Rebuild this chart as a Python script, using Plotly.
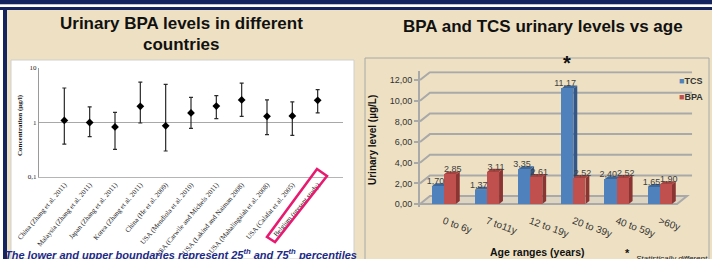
import plotly.graph_objects as go

W, H = 712, 259
def px(x): return x / W
def py(y): return 1 - y / H

# ---------------- data: left chart (urinary BPA by country, µg/l) ----------------
studies = ["China (Zhang et al. 2011)", "Malaysia (Zhang et al. 2011)", "Japan (Zhang et al. 2011)",
           "Korea (Zhang et al. 2011)", "China (He et al. 2009)", "USA (Mendiola et al. 2010)",
           "USA (Carwile and Michels 2011)", "USA (Lakind and Naiman 2008)",
           "USA (Mahalingaiah et al. 2008)", "USA (Calafat et al. 2005)", "Belgium (present study)"]
bpa_median = [1.09, 1.00, 0.83, 1.98, 0.87, 1.50, 2.00, 2.60, 1.30, 1.32, 2.55]
bpa_p25 = [0.40, 0.55, 0.32, 0.98, 0.30, 0.78, 1.18, 1.29, 0.60, 0.58, 1.50]
bpa_p75 = [4.30, 1.93, 1.54, 5.50, 5.00, 2.90, 3.10, 5.30, 2.60, 2.40, 4.00]
left_ticks = [0.1, 1, 10]
left_ticktext = ["0,1", "1", "10"]

# ---------------- data: right chart (urinary level by age, µg/L) ----------------
age_ranges = ["0 to 6y", "7 to11y", "12 to 19y", "20 to 39y", "40 to 59y", ">60y"]
tcs = [1.70, 1.37, 3.35, 11.17, 2.40, 1.65]
bpa = [2.85, 3.11, 2.61, 2.52, 2.52, 1.90]
right_ticks = [0, 2, 4, 6, 8, 10, 12]

BLUE, BLUE_D, BLUE_T = "#4f81bd", "#34578a", "#3d6699"
RED, RED_D, RED_T = "#c0504d", "#8a3532", "#a34340"
NAVY = "#13245e"
BEIGE = "#eee1c3"

fig = go.Figure()

# left chart
fig.add_trace(go.Scatter(
    x=studies, y=bpa_median, mode="markers",
    marker=dict(symbol="diamond", size=6, color="black"),
    error_y=dict(type="data", symmetric=False,
                 array=[u - m for u, m in zip(bpa_p75, bpa_median)],
                 arrayminus=[m - l for m, l in zip(bpa_median, bpa_p25)],
                 color="#2a2a2a", thickness=1.2, width=2),
    xaxis="x", yaxis="y", showlegend=False))

# right chart bars
idx = list(range(len(age_ranges)))
BW = 0.28
series = ((tcs, -BW, BLUE, "TCS", -0.19), (bpa, 0.0, RED, "BPA", 0.21))
for vals, off, col, nm, lab in series:
    fig.add_trace(go.Bar(x=idx, y=vals, offset=off, width=BW, marker=dict(color=col, line=dict(width=0)),
                         xaxis="x2", yaxis="y2", showlegend=False, name=nm))
# value labels drawn on top of all bars
for vals, off, col, nm, lab in series:
    fig.add_trace(go.Scatter(x=[i + lab for i in idx], y=vals, mode="text",
                             texttemplate="%{y:.2f}", textposition="top center", cliponaxis=False,
                             textfont=dict(family="Liberation Sans", size=9, color="#404040"),
                             xaxis="x2", yaxis="y2", showlegend=False, hoverinfo="skip"))

shapes = []
# slide decorations
shapes.append(dict(type="rect", xref="paper", yref="paper", x0=0, x1=1, y0=py(4.5), y1=1,
                   fillcolor=NAVY, line=dict(width=0), layer="below"))
shapes.append(dict(type="rect", xref="paper", yref="paper", x0=0, x1=1, y0=py(7), y1=py(4.5),
                   fillcolor="white", line=dict(width=0), layer="below"))
shapes.append(dict(type="rect", xref="paper", yref="paper", x0=0, x1=1, y0=py(10), y1=py(7),
                   fillcolor=NAVY, line=dict(width=0), layer="below"))
shapes.append(dict(type="rect", xref="paper", yref="paper", x0=0, x1=px(3), y0=0, y1=py(10),
                   fillcolor="white", line=dict(width=0), layer="below"))
shapes.append(dict(type="rect", xref="paper", yref="paper", x0=px(3), x1=px(7), y0=0, y1=py(10),
                   fillcolor=NAVY, line=dict(width=0), layer="below"))
# left white chart box
shapes.append(dict(type="rect", xref="paper", yref="paper", x0=px(11), x1=px(354), y0=0, y1=py(60),
                   fillcolor="white", line=dict(color="#cfcfcf", width=1), layer="below"))
# right chart border
shapes.append(dict(type="rect", xref="paper", yref="paper", x0=px(365), x1=px(709), y0=py(262), y1=py(58),
                   fillcolor="rgba(0,0,0,0)", line=dict(color="#a8a8a8", width=1), layer="below"))
# Belgium highlight box
pts = [(317, 169), (327, 176), (275, 242), (267, 237)]
path = "M " + " L ".join(f"{px(a):.5f},{py(b):.5f}" for a, b in pts) + " Z"
shapes.append(dict(type="path", xref="paper", yref="paper", path=path,
                   line=dict(color="#e8196f", width=2.5)))

# 3D walls / floor for right chart
X0, X1 = -0.55, 5.75
DX, DY = 0.23, 0.77
for v in right_ticks[1:]:
    shapes.append(dict(type="path", xref="x2", yref="y2",
                       path=f"M {X0},{v} L {X0+DX},{v+DY} L {X1},{v+DY}",
                       line=dict(color="#a9a9a9", width=2), layer="below"))
shapes.append(dict(type="path", xref="x2", yref="y2",
                   path=f"M {X0},0 L {X1-DX-0.12},0 L {X1-0.12},{DY} L {X0+DX},{DY} Z",
                   fillcolor="rgba(190,190,190,0.35)", line=dict(color="#a9a9a9", width=2), layer="below"))

# bar depth faces
ddx, ddy = 0.09, 0.3
for vals, off, side, top in ((tcs, -BW, BLUE_D, BLUE_T), (bpa, 0.0, RED_D, RED_T)):
    for i, v in zip(idx, vals):
        xl, xr = i + off, i + off + BW
        shapes.append(dict(type="path", xref="x2", yref="y2",
                           path=f"M {xr},0 L {xr},{v} L {xr+ddx},{v+ddy} L {xr+ddx},{ddy} Z",
                           fillcolor=side, line=dict(width=0), layer="below"))
        shapes.append(dict(type="path", xref="x2", yref="y2",
                           path=f"M {xl},{v} L {xr},{v} L {xr+ddx},{v+ddy} L {xl+ddx},{v+ddy} Z",
                           fillcolor=top, line=dict(width=0), layer="below"))

def note(text, x, y, size, family="Liberation Sans", color="#111", xanchor="center",
         yanchor="middle", angle=0):
    return dict(text=text, x=px(x), y=py(y), xref="paper", yref="paper", xanchor=xanchor,
                yanchor=yanchor, textangle=angle, showarrow=False,
                font=dict(family=family, size=size, color=color))

annotations = [
    note("<b>Urinary BPA levels in different</b>", 181, 23, 17),
    note("<b>countries</b>", 181, 44, 17),
    note("<b>BPA and TCS urinary levels vs age</b>", 543, 26, 17),
    note("<b>Concentration (µg/l)</b>", 20, 125, 7, family="Liberation Serif", angle=-90),
    note("<b><i>The lower and upper boundaries represent 25<sup>th</sup> and 75<sup>th</sup> percentiles</i></b>",
         3, 245, 11, color="#1c2a86", xanchor="left", yanchor="top"),
    note("<b>Urinary level (µg/L)</b>", 372, 140, 10, angle=-90),
    note("<b>Age ranges (years)</b>", 537, 252, 10.5),
    note(f'<span style="color:{BLUE}">■</span><b>TCS</b>', 677, 81, 9, color="#333", xanchor="left"),
    note(f'<span style="color:{RED}">■</span><b>BPA</b>', 677, 97, 9, color="#333", xanchor="left"),
    dict(text="<b>*</b>", x=idx[3] - BW / 2, y=tcs[3], xref="x2", yref="y2", yshift=26,
         xanchor="center", yanchor="middle",
         showarrow=False, font=dict(family="Liberation Sans", size=20, color="#111")),
    note("<b>*</b>", 627, 253, 11),
    note("<i>Statistically different</i>", 634, 258, 8, color="#222", xanchor="left"),
]

fig.update_layout(
    template="none",
    width=W, height=H, margin=dict(l=0, r=0, t=0, b=0, autoexpand=False),
    paper_bgcolor=BEIGE, plot_bgcolor="rgba(0,0,0,0)",
    separators=",.", shapes=shapes, annotations=annotations, bargap=0,
    xaxis=dict(domain=[px(39), px(343)], range=[-1, 11], type="category", anchor="y", automargin=False,
               showline=True, linecolor="#b5b5b5", linewidth=1, showgrid=False, ticks="", zeroline=False,
               tickangle=-50, tickfont=dict(family="Liberation Serif", size=7, color="#222")),
    yaxis=dict(domain=[py(177), py(68)], type="log", range=[-1, 1], anchor="x", automargin=False,
               tickvals=left_ticks, ticktext=left_ticktext,
               showline=True, linecolor="#9a9a9a", linewidth=1, showgrid=True, gridcolor="#a8a8a8",
               gridwidth=1, ticks="", zeroline=False,
               tickfont=dict(family="Liberation Serif", size=7, color="#222")),
    xaxis2=dict(domain=[px(420), px(692.2)], range=[X0, X1], anchor="y2", automargin=False,
                tickvals=idx, ticktext=age_ranges, tickangle=20, showgrid=False, zeroline=False,
                showline=False, ticks="", ticklabelstandoff=6,
                tickfont=dict(family="Liberation Sans", size=10, color="#333")),
    yaxis2=dict(domain=[py(206.6), py(71.3)], range=[-0.25, 12.85], anchor="x2", automargin=False,
                tickvals=right_ticks, tickformat=".2f", showgrid=False, zeroline=False,
                showline=True, linecolor="#a9a9a9", linewidth=2, ticks="outside", ticklen=4,
                tickcolor="#a9a9a9", tickwidth=2,
                tickfont=dict(family="Liberation Sans", size=9, color="#333")),
)

fig.write_html("out.html", config={"displayModeBar": False},
               post_script="document.body.style.margin='0px';")
